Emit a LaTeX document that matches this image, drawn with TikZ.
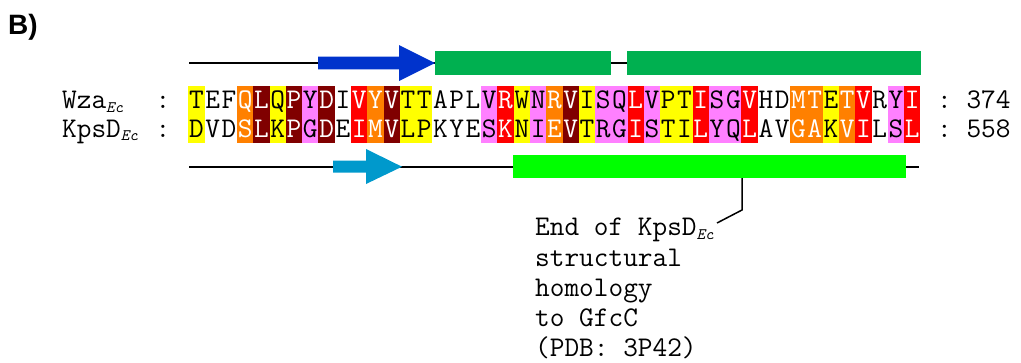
\documentclass[tikz,border=0pt]{standalone}
\usepackage{fontspec}
\setmainfont{Liberation Sans}

\definecolor{resyellow}{HTML}{FFFF00}
\definecolor{resorange}{HTML}{FF8000}
\definecolor{resmaroon}{HTML}{800000}
\definecolor{resred}{HTML}{FF0000}
\definecolor{respink}{HTML}{FF80FF}
\definecolor{strandblue}{HTML}{0033CC}
\definecolor{strandcyan}{HTML}{0099CC}
\definecolor{helixgreen}{HTML}{00B050}
\definecolor{helixlime}{HTML}{00FF00}

\newcommand{\seqfont}{\fontsize{28.5}{30.3}\selectfont\ttfamily}
\newcommand{\ecsub}{\raisebox{-3.5pt}{\fontsize{16}{16}\selectfont\itshape Ec}}

\tikzset{
  res/.style={minimum width=16.27pt, minimum height=28.5pt, inner sep=0pt,
    text height=17pt, text depth=0pt, font=\seqfont},
  col Y/.style={fill=resyellow, text=black},
  col O/.style={fill=resorange, text=white},
  col M/.style={fill=resmaroon, text=white},
  col R/.style={fill=resred, text=white},
  col P/.style={fill=respink, text=black},
  col W/.style={text=black},
  lbl/.style={inner sep=0pt, font=\seqfont},
  bar/.style={inner sep=0pt, draw=none},
  track/.style={line width=2pt, black},
  callout/.style={line width=1.5pt, black}
}

\begin{document}
\begin{tikzpicture}[x=1pt, y=-1pt]
\useasboundingbox (0,0) rectangle (1021,362);

\node[inner sep=0pt, anchor=base west, font=\fontsize{28}{34}\selectfont\bfseries] (panel) at (8,34) {B)};

% secondary structure of Wza
\draw[track] (189,63) -- (920,63);
\fill[strandblue] (318,56.7) -- (399,56.7) -- (399,45) -- (435,63) -- (399,81) -- (399,69.3) -- (318,69.3) -- cycle;
\node[bar, fill=helixgreen, minimum width=176pt, minimum height=24pt] (wzahelixA) at (523,63) {};
\node[bar, fill=helixgreen, minimum width=294pt, minimum height=24pt] (wzahelixB) at (774,63) {};

% alignment
\foreach \a/\b/\c [count=\i] in {T/D/Y, E/V/W, F/D/W, Q/S/O, L/L/M, Q/K/Y, P/P/M, Y/G/P, D/D/M, I/E/W,
  V/I/R, Y/M/O, V/V/M, T/L/Y, T/P/Y, A/K/W, P/Y/W, L/E/W, V/S/P, R/K/R,
  W/N/Y, N/I/P, R/E/O, V/V/M, I/T/Y, S/R/P, Q/G/P, L/I/R, V/S/P, P/T/Y,
  T/I/Y, I/L/R, S/Y/P, G/Q/P, V/L/R, H/A/W, D/V/W, M/G/O, T/A/O, E/K/Y,
  T/V/O, V/I/R, R/L/W, Y/S/P, I/L/R}
{
  \node[res, col \c] (wza\i) at ({188.3+16.27*(\i-0.5)}, 100.25) {\a};
  \node[res, col \c] (kps\i) at ({188.3+16.27*(\i-0.5)}, 128.75) {\b};
}

\node[lbl, anchor=base west] (wzaname) at (62,108.8) {Wza\ecsub};
\node[lbl, anchor=base] (wzacolon) at (163,108.8) {:};
\node[lbl, anchor=base west] (wzaend) at (937,108.8) {:~374};
\node[lbl, anchor=base west] (kpsname) at (62,137.3) {KpsD\ecsub};
\node[lbl, anchor=base] (kpscolon) at (163,137.3) {:};
\node[lbl, anchor=base west] (kpsend) at (937,137.3) {:~558};

% secondary structure of KpsD
\draw[track] (189,166.7) -- (919,166.7);
\fill[strandcyan] (333,160.7) -- (366,160.7) -- (366,149) -- (402,166.7) -- (366,184) -- (366,172.7) -- (333,172.7) -- cycle;
\node[bar, fill=helixlime, minimum width=392.7pt, minimum height=23pt] (kpshelix) at (709.35,166.5) {};

% note
\node[lbl, align=left, anchor=north west] (homologynote) at (535,218)
  {End of KpsD\ecsub\\structural\\homology\\to GfcC\\(PDB: 3P42)};
\coordinate (calloutknee) at (742,210);
\coordinate (calloutend) at (717,223);
\draw[callout] (calloutknee |- kpshelix.south) -- (calloutknee) -- (calloutend);

\end{tikzpicture}
\end{document}
